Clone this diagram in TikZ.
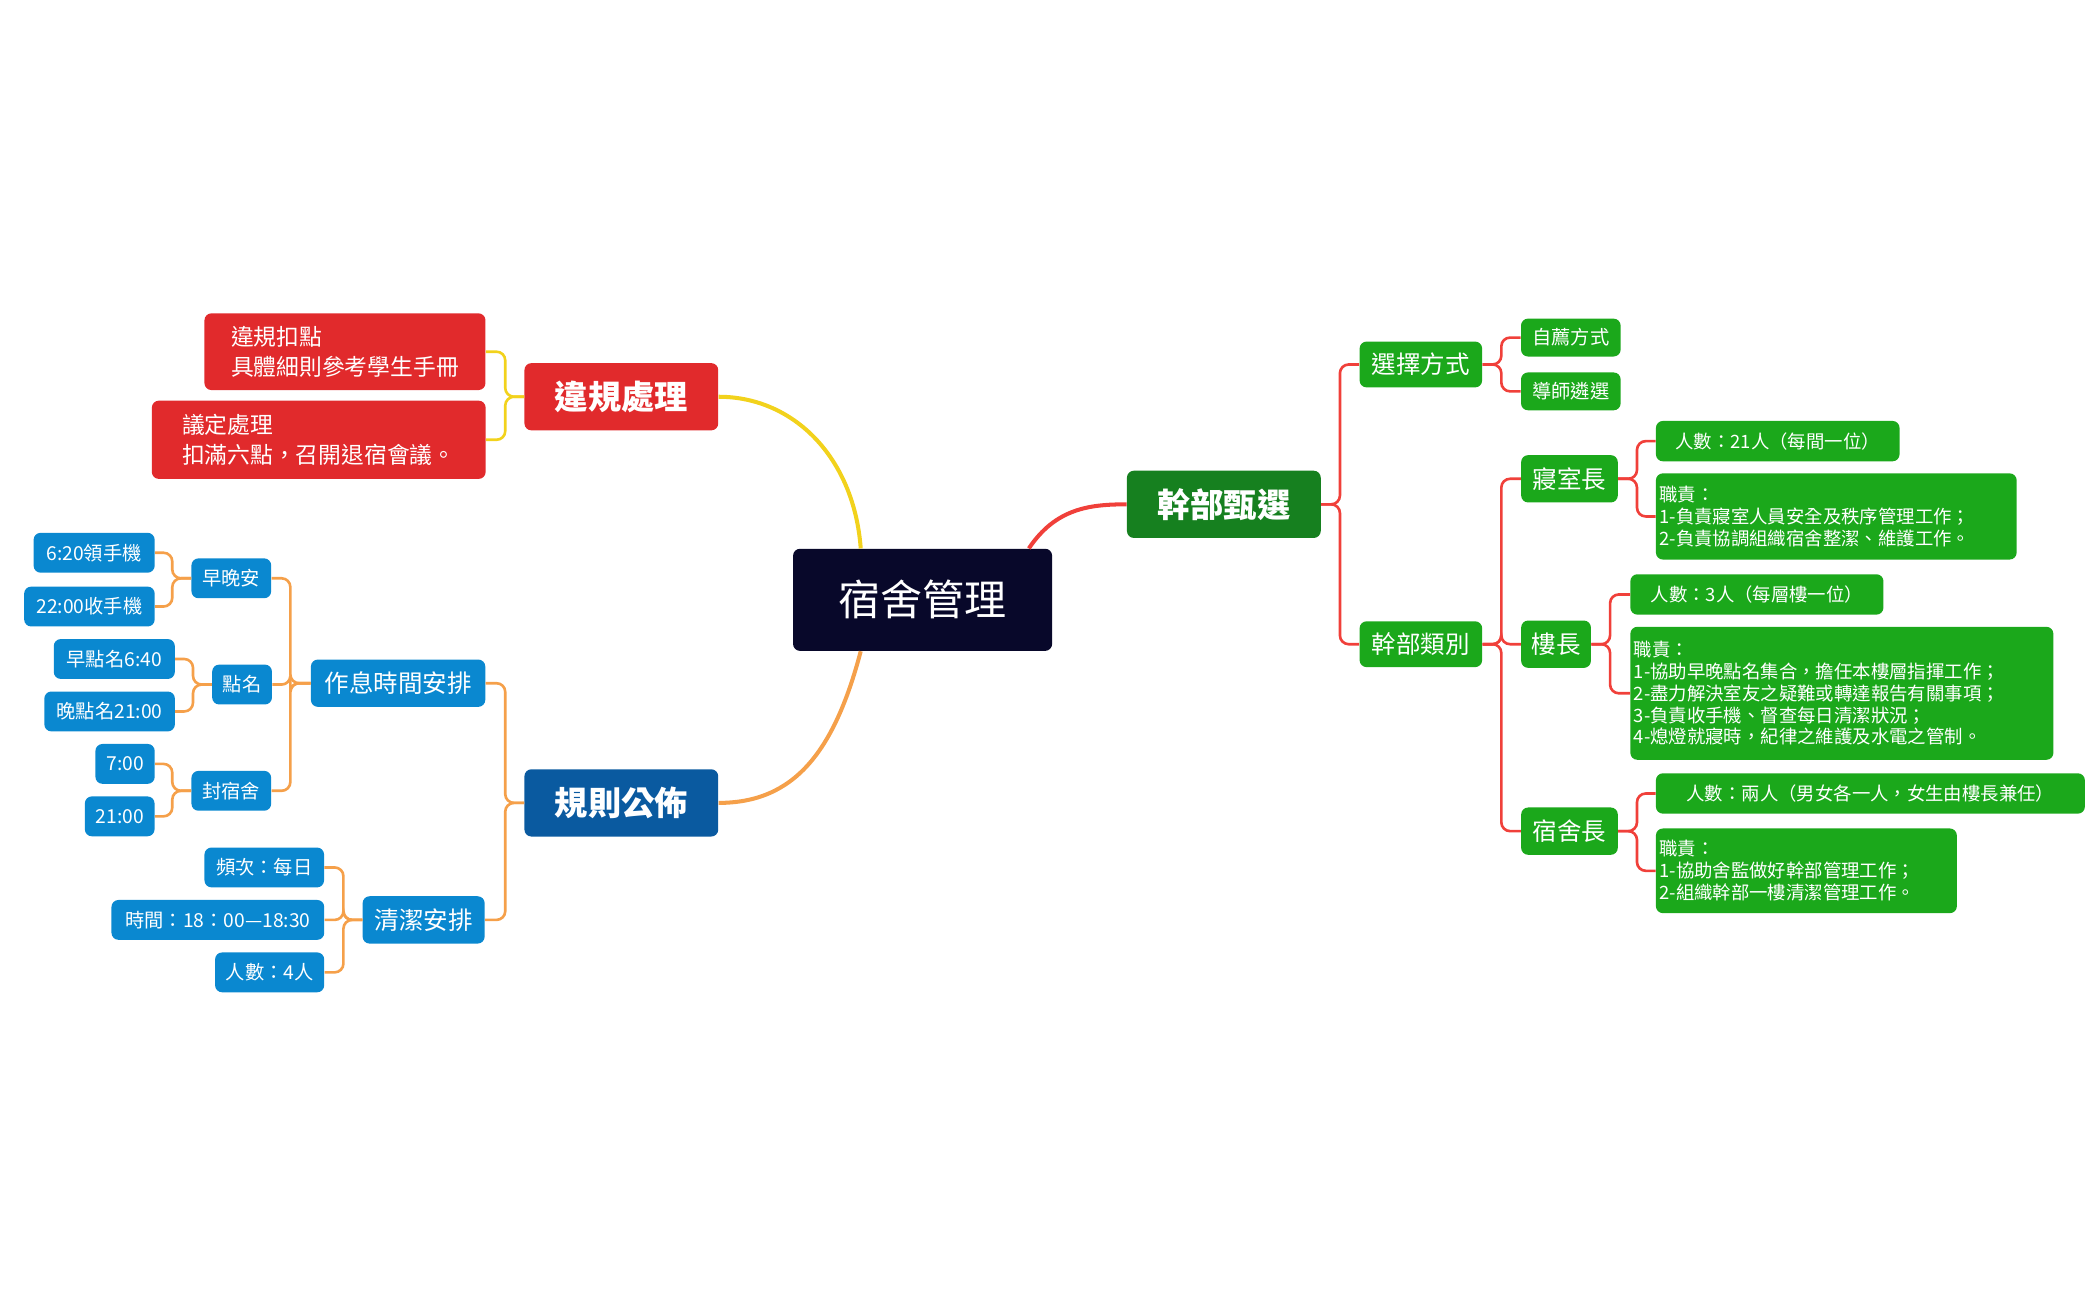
\documentclass[tikz,border=0pt]{standalone}
\usepackage{fontspec}
\setmainfont{Noto Sans CJK TC}
\usepackage{xcolor}
\usetikzlibrary{positioning,calc}

\definecolor{rootc}{HTML}{08082A}
\definecolor{redc}{HTML}{E12A2C}
\definecolor{bluem}{HTML}{0A5AA0}
\definecolor{bluel}{HTML}{0A88D0}
\definecolor{greenm}{HTML}{16801F}
\definecolor{greenl}{HTML}{1BA81B}
\definecolor{yelline}{HTML}{F2D21C}
\definecolor{orgline}{HTML}{F5A04A}
\definecolor{redline}{HTML}{F0403A}

\begin{document}
\begin{tikzpicture}[
    x=0.027cm, y=0.027cm,
    box/.style={rectangle, rounded corners=4pt, text=white, inner sep=2pt, align=center},
    rootbox/.style={box, fill=rootc, minimum width=5.2cm, minimum height=2.05cm, font=\fontsize{24}{28}\selectfont},
    mainbox/.style={box, minimum width=3.89cm, minimum height=1.35cm, font=\fontsize{19}{22}\selectfont\bfseries},
    redbox/.style={box, fill=redc, align=left, font=\fontsize{13}{17}\selectfont},
    bluebox/.style={box, fill=bluel, font=\fontsize{11}{13}\selectfont},
    bluemid/.style={box, fill=bluel, font=\fontsize{14}{16}\selectfont},
    greenbox/.style={box, fill=greenl, font=\fontsize{11}{13}\selectfont},
    greenmid/.style={box, fill=greenl, font=\fontsize{14}{16}\selectfont},
    leaf/.style={box, fill=greenl, align=left, font=\fontsize{10.5}{12.5}\selectfont},
    yl/.style={draw=yelline, line width=1.5pt, rounded corners=5pt},
    ol/.style={draw=orgline, line width=1.5pt, rounded corners=5pt},
    rl/.style={draw=redline, line width=1.5pt, rounded corners=5pt}
]
\useasboundingbox (0,0) rectangle (1560,-967);

% Root and main branches
\node[rootbox] (root) at (686,-446) {宿舍管理};
\node[mainbox, fill=redc] (viol) at (462,-295) {違規處理};
\node[mainbox, fill=bluem] (rules) at (462,-597) {規則公佈};
\node[mainbox, fill=greenm] (cadre) at (910,-375) {幹部甄選};

\coordinate (rootY) at ($(root.north)+(-46,0)$);
\coordinate (rootO) at ($(root.south)+(-46,0)$);
\coordinate (rootR) at ($(root.north)+(79,0)$);
\draw[yelline, line width=2.3pt] (rootY) .. controls (635,-340) and (590,-295) .. (viol.east);
\draw[orgline, line width=2.3pt] (rootO) .. controls (620,-560) and (590,-597) .. (rules.east);
\draw[redline, line width=2.3pt] (rootR) .. controls (785,-378) and (810,-375) .. (cadre.west);

% Violations
\node[redbox, minimum width=5.64cm, minimum height=1.54cm] (deduct) at (256.5,-261.5) {違規扣點\\具體細則參考學生手冊};
\node[redbox, minimum width=6.70cm, minimum height=1.57cm] (meet) at (237,-327) {議定處理\\扣滿六點，召開退宿會議。};
\foreach \c in {deduct,meet}
  \draw[yl] (viol.west) -- ++(-14,0) |- (\c.east);

% Rules
\node[bluemid, minimum width=3.5cm, minimum height=0.95cm] (sched) at (296,-508) {作息時間安排};
\node[bluemid, minimum width=2.45cm, minimum height=0.95cm] (clean) at (315,-684) {清潔安排};
\foreach \c in {sched,clean}
  \draw[ol] (rules.west) -- ++(-14,0) |- (\c.east);

\node[bluebox, minimum width=1.6cm, minimum height=0.8cm] (greet) at (172,-430) {早晚安};
\node[bluebox, minimum width=1.2cm, minimum height=0.8cm] (roll) at (180,-509) {點名};
\node[bluebox, minimum width=1.6cm, minimum height=0.8cm] (seal) at (172,-588) {封宿舍};
\foreach \c in {greet,roll,seal}
  \draw[ol] (sched.west) -- ++(-15,0) |- (\c.east);

\node[bluebox, minimum width=2.43cm, minimum height=0.8cm] (g1) at (70,-411) {6:20領手機};
\node[bluebox, minimum width=2.62cm, minimum height=0.8cm] (g2) at (66.5,-451) {22:00收手機};
\node[bluebox, minimum width=2.43cm, minimum height=0.8cm] (r1) at (85,-490) {早點名6:40};
\node[bluebox, minimum width=2.62cm, minimum height=0.8cm] (r2) at (81.5,-529) {晚點名21:00};
\node[bluebox, minimum width=1.19cm, minimum height=0.8cm] (s1) at (93,-568) {7:00};
\node[bluebox, minimum width=1.40cm, minimum height=0.8cm] (s2) at (89,-607) {21:00};
\foreach \c in {g1,g2}
  \draw[ol] (greet.west) -- ++(-14,0) |- (\c.east);
\foreach \c in {r1,r2}
  \draw[ol] (roll.west) -- ++(-14,0) |- (\c.east);
\foreach \c in {s1,s2}
  \draw[ol] (seal.west) -- ++(-14,0) |- (\c.east);

\node[bluebox, minimum width=2.4cm, minimum height=0.8cm] (c1) at (196.5,-645) {頻次：每日};
\node[bluebox, minimum width=4.27cm, minimum height=0.8cm] (c2) at (162,-684) {時間：18：00—18:30};
\node[bluebox, minimum width=2.19cm, minimum height=0.8cm] (c3) at (200.5,-723) {人數：4人};
\foreach \c in {c1,c2,c3}
  \draw[ol] (clean.west) -- ++(-14,0) |- (\c.east);

% Cadre selection
\node[greenmid, minimum width=2.46cm, minimum height=0.92cm] (way) at (1056.5,-271) {選擇方式};
\node[greenmid, minimum width=2.46cm, minimum height=0.92cm] (kind) at (1056.5,-479) {幹部類別};
\foreach \c in {way,kind}
  \draw[rl] (cadre.east) -- ++(14,0) |- (\c.west);

\node[greenbox, minimum width=2.0cm, minimum height=0.76cm] (self) at (1168,-251) {自薦方式};
\node[greenbox, minimum width=2.0cm, minimum height=0.76cm] (tutor) at (1168,-291) {導師遴選};
\foreach \c in {self,tutor}
  \draw[rl] (way.east) -- ++(14,0) |- (\c.west);

\node[greenmid, minimum width=1.94cm, minimum height=0.95cm] (room) at (1167,-356) {寢室長};
\node[greenmid, minimum width=1.40cm, minimum height=0.95cm] (floor) at (1157,-479) {樓長};
\node[greenmid, minimum width=1.94cm, minimum height=0.95cm] (dorm) at (1167,-618) {宿舍長};
\foreach \c in {room,floor,dorm}
  \draw[rl] (kind.east) -- ++(14,0) |- (\c.west);

\node[leaf, minimum width=4.89cm, minimum height=0.81cm, anchor=west] (room1) at (1231,-328) {人數：21人（每間一位）};
\node[leaf, text width=7.1cm, minimum height=1.73cm, anchor=west] (room2) at (1231,-384) {職責：\\1-負責寢室人員安全及秩序管理工作；\\2-負責協調組織宿舍整潔、維護工作。};
\foreach \c in {room1,room2}
  \draw[rl] (room.east) -- ++(14,0) |- (\c.west);

\node[leaf, minimum width=5.08cm, minimum height=0.81cm, anchor=west] (floor1) at (1212,-442) {人數：3人（每層樓一位）};
\node[leaf, text width=8.35cm, minimum height=2.67cm, anchor=west] (floor2) at (1212,-515.5) {職責：\\1-協助早晚點名集合，擔任本樓層指揮工作；\\2-盡力解決室友之疑難或轉達報告有關事項；\\3-負責收手機、督查每日清潔狀況；\\4-熄燈就寢時，紀律之維護及水電之管制。};
\foreach \c in {floor1,floor2}
  \draw[rl] (floor.east) -- ++(14,0) |- (\c.west);

\node[leaf, minimum width=8.61cm, minimum height=0.81cm, anchor=west] (dorm1) at (1231,-590) {人數：兩人（男女各一人，女生由樓長兼任）};
\node[leaf, text width=5.9cm, minimum height=1.70cm, anchor=west] (dorm2) at (1231,-647.5) {職責：\\1-協助舍監做好幹部管理工作；\\2-組織幹部一樓清潔管理工作。};
\foreach \c in {dorm1,dorm2}
  \draw[rl] (dorm.east) -- ++(14,0) |- (\c.west);

\end{tikzpicture}
\end{document}
